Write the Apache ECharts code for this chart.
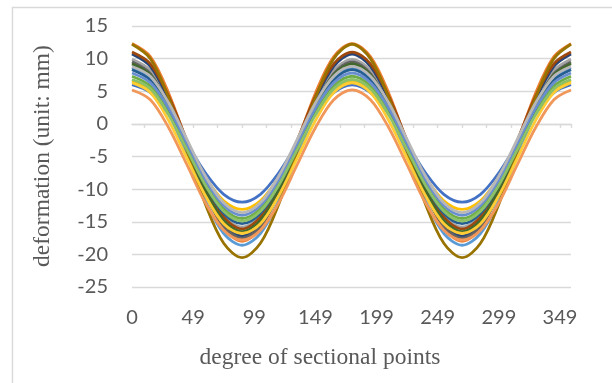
<!DOCTYPE html>
<html>
<head>
<meta charset="utf-8">
<script src="https://cdn.jsdelivr.net/npm/echarts@6/dist/echarts.min.js"></script>
<style>
html,body{margin:0;padding:0;background:#fff;}
#chart{width:612px;height:383px;}
</style>
</head>
<body>
<div id="chart"></div>
<script>
// x positions (degrees of sectional points) at which values were read
const angles = [0,15,30,45,60,75,90,105,120,135,150,165,180,195,210,225,240,255,270,285,300,315,330,345,359];
// x tick labels shown under the axis (at 0,50,...,350)
const xTickLabels = ['0','49','99','149','199','249','299','349'];
const xLabelStep = 50;
const xTickMarks = [10,30,50,70,90,110,130,150,170,190,210,230,250,270,290,310,330,350,359];
const yMin = -25, yMax = 15, yStep = 5;

const s1  = [6.0,4.8,1.5,-3.0,-7.5,-10.8,-12.0,-10.8,-7.5,-3.0,1.5,4.8,6.0,4.8,1.5,-3.0,-7.5,-10.8,-12.0,-10.8,-7.5,-3.0,1.5,4.8,6.0];
const s2  = [12.3,10.3,4.7,-2.9,-10.4,-16.0,-18.0,-16.0,-10.4,-2.9,4.7,10.3,12.3,10.3,4.7,-2.9,-10.4,-16.0,-18.0,-16.0,-10.4,-2.9,4.7,10.3,12.3];
const s3  = [9.9,8.2,3.5,-3.0,-9.4,-14.1,-15.8,-14.1,-9.4,-3.0,3.5,8.2,9.9,8.2,3.5,-3.0,-9.4,-14.1,-15.8,-14.1,-9.4,-3.0,3.5,8.2,9.9];
const s4  = [6.6,5.3,1.7,-3.3,-8.2,-11.8,-13.1,-11.8,-8.2,-3.3,1.7,5.3,6.6,5.3,1.7,-3.3,-8.2,-11.8,-13.1,-11.8,-8.2,-3.3,1.7,5.3,6.6];
const s5  = [8.6,6.8,1.8,-5.0,-11.8,-16.8,-18.6,-16.8,-11.8,-5.0,1.8,6.8,8.6,6.8,1.8,-5.0,-11.8,-16.8,-18.6,-16.8,-11.8,-5.0,1.8,6.8,8.6];
const s6  = [7.3,5.8,1.9,-3.6,-9.1,-13.0,-14.5,-13.0,-9.1,-3.6,1.9,5.8,7.3,5.8,1.9,-3.6,-9.1,-13.0,-14.5,-13.0,-9.1,-3.6,1.9,5.8,7.3];
const s7  = [10.7,8.8,3.7,-3.3,-10.2,-15.3,-17.2,-15.3,-10.2,-3.3,3.7,8.8,10.7,8.8,3.7,-3.3,-10.2,-15.3,-17.2,-15.3,-10.2,-3.3,3.7,8.8,10.7];
const s8  = [11.0,9.2,4.2,-2.6,-9.3,-14.3,-16.1,-14.3,-9.3,-2.6,4.2,9.2,11.0,9.2,4.2,-2.6,-9.3,-14.3,-16.1,-14.3,-9.3,-2.6,4.2,9.2,11.0];
const s9  = [9.5,7.7,2.8,-4.0,-10.8,-15.7,-17.5,-15.7,-10.8,-4.0,2.8,7.7,9.5,7.7,2.8,-4.0,-10.8,-15.7,-17.5,-15.7,-10.8,-4.0,2.8,7.7,9.5];
const s10 = [12.2,10.0,4.0,-4.2,-12.3,-18.3,-20.5,-18.3,-12.3,-4.2,4.0,10.0,12.2,10.0,4.0,-4.2,-12.3,-18.3,-20.5,-18.3,-12.3,-4.2,4.0,10.0,12.2];
const s11 = [8.3,6.7,2.4,-3.5,-9.4,-13.7,-15.3,-13.7,-9.4,-3.5,2.4,6.7,8.3,6.7,2.4,-3.5,-9.4,-13.7,-15.3,-13.7,-9.4,-3.5,2.4,6.7,8.3];
const s12 = [9.2,7.5,2.8,-3.7,-10.1,-14.8,-16.5,-14.8,-10.1,-3.7,2.8,7.5,9.2,7.5,2.8,-3.7,-10.1,-14.8,-16.5,-14.8,-10.1,-3.7,2.8,7.5,9.2];
const s13 = [7.8,6.3,2.4,-3.1,-8.6,-12.5,-14.0,-12.5,-8.6,-3.1,2.4,6.3,7.8,6.3,2.4,-3.1,-8.6,-12.5,-14.0,-12.5,-8.6,-3.1,2.4,6.3,7.8];
const s14 = [5.2,3.7,-0.6,-6.3,-12.1,-16.3,-17.8,-16.3,-12.1,-6.3,-0.6,3.7,5.2,3.7,-0.6,-6.3,-12.1,-16.3,-17.8,-16.3,-12.1,-6.3,-0.6,3.7,5.2];
const s15 = [8.8,7.3,3.2,-2.4,-8.0,-12.1,-13.6,-12.1,-8.0,-2.4,3.2,7.3,8.8,7.3,3.2,-2.4,-8.0,-12.1,-13.6,-12.1,-8.0,-2.4,3.2,7.3,8.8];
const s16 = [6.3,4.8,0.5,-5.3,-11.0,-15.3,-16.8,-15.3,-11.0,-5.3,0.5,4.8,6.3,4.8,0.5,-5.3,-11.0,-15.3,-16.8,-15.3,-11.0,-5.3,0.5,4.8,6.3];
const s17 = [6.8,5.4,1.4,-4.0,-9.4,-13.4,-14.9,-13.4,-9.4,-4.0,1.4,5.4,6.8,5.4,1.4,-4.0,-9.4,-13.4,-14.9,-13.4,-9.4,-4.0,1.4,5.4,6.8];

const seriesValues = [s1,s2,s3,s4,s5,s6,s7,s8,s9,s10,s11,s12,s13,s14,s15,s16,s17];
const seriesColors = ['#4472C4','#ED7D31','#A5A5A5','#FFC000','#5B9BD5','#70AD47','#264478','#9E480E','#636363','#997300','#255E91','#43682B','#698ED0','#F1975A','#B7B7B7','#FFCD33','#8CC168'];

const yTitle = 'deformation (unit: mm)';
const xTitle = 'degree of sectional points';

const textColor = '#595959';
const gridColor = '#D9D9D9';
const tickFont = 'Lato';

const chart = echarts.init(document.getElementById('chart'), null, {renderer: 'canvas'});

const series = seriesValues.map((vals, k) => ({
  type: 'line',
  xAxisIndex: 0,
  yAxisIndex: 0,
  smooth: 0.33,
  showSymbol: false,
  symbol: 'none',
  lineStyle: {width: 2.8, color: seriesColors[k]},
  itemStyle: {color: seriesColors[k]},
  data: angles.map((a, i) => [a, vals[i]])
}));

chart.setOption({
  animation: false,
  backgroundColor: '#fff',
  grid: {left: 132, right: 41, top: 26, bottom: 96, containLabel: false, outerBoundsMode: 'none'},
  xAxis: [
    {
      type: 'value', position: 'bottom', min: 0, max: 359, interval: xLabelStep,
      axisLine: {show: false, onZero: false},
      axisTick: {show: false},
      splitLine: {show: false},
      axisLabel: {
        margin: 21, color: textColor, fontSize: 20, fontFamily: tickFont,
        showMaxLabel: false,
        formatter: function (v) {
          if (v % xLabelStep !== 0) return '';
          const i = Math.round(v / xLabelStep);
          return i < xTickLabels.length ? xTickLabels[i] : '';
        }
      }
    },
    {
      type: 'value', position: 'top', min: 0, max: 359, interval: 20,
      axisLine: {show: true, onZero: true, lineStyle: {color: gridColor, width: 1.4}},
      axisTick: {show: true, inside: true, length: 4, customValues: xTickMarks, lineStyle: {color: gridColor, width: 1.4}},
      axisLabel: {show: false},
      splitLine: {show: false}
    }
  ],
  yAxis: {
    type: 'value', min: yMin, max: yMax, interval: yStep,
    axisLine: {show: false},
    axisTick: {show: false},
    splitLine: {show: true, lineStyle: {color: gridColor, width: 1.4}},
    axisLabel: {margin: 24, color: textColor, fontSize: 20, fontFamily: tickFont}
  },
  graphic: [
    {
      type: 'rect', silent: true, z: -1,
      shape: {x: 12.5, y: 7.5, width: 640, height: 420},
      style: {fill: 'none', stroke: gridColor, lineWidth: 1.4}
    },
    {
      type: 'text', x: 43, y: 156, rotation: Math.PI / 2,
      style: {text: yTitle, fill: textColor, font: '23.5px "Liberation Serif"', align: 'center', verticalAlign: 'middle'}
    },
    {
      type: 'text', x: 320, y: 358,
      style: {text: xTitle, fill: textColor, font: '23.5px "Liberation Serif"', align: 'center', verticalAlign: 'middle'}
    }
  ],
  series: series
});
</script>
</body>
</html>
